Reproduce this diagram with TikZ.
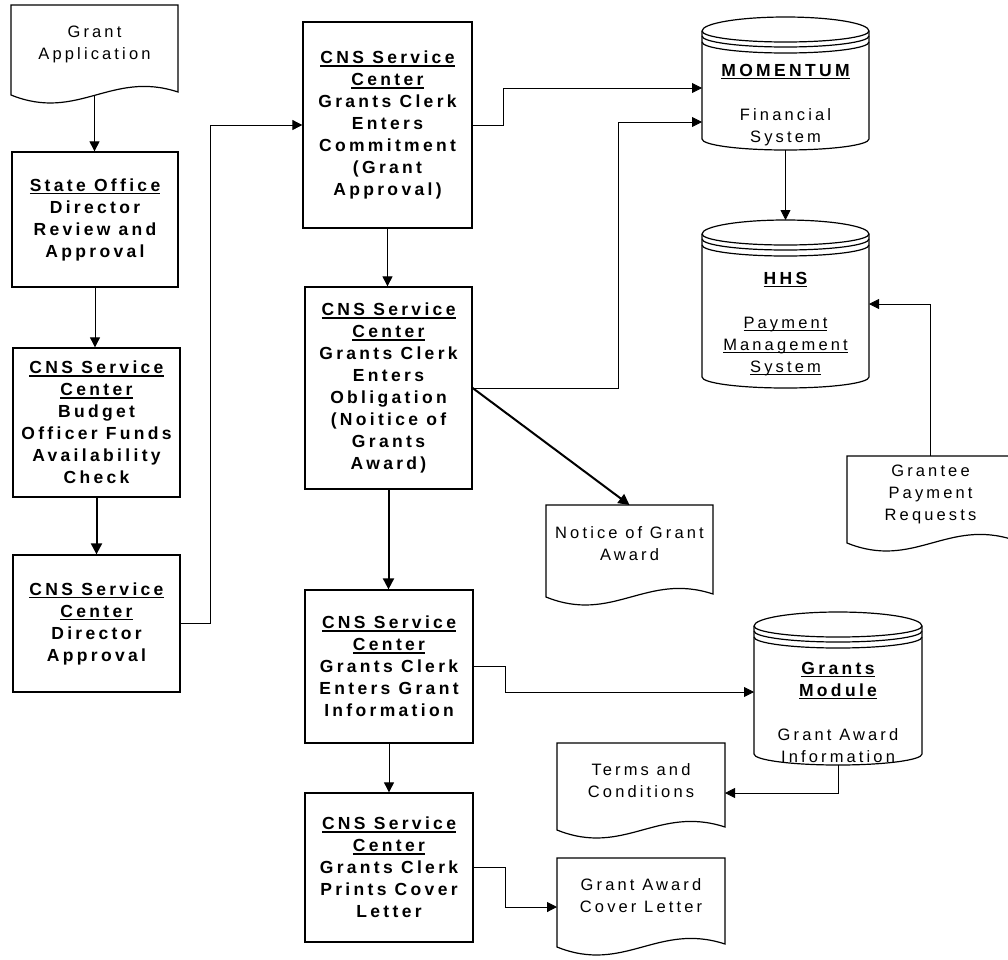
\documentclass[tikz,border=0pt]{standalone}
\usepackage{fontspec}
\setmainfont{Liberation Sans}
\newfontfamily\spreg[LetterSpace=19]{Liberation Sans}
\usetikzlibrary{arrows.meta,calc}
\newcommand\ulx[1]{\setbox0=\hbox{#1}\rlap{\rule[-3pt]{\wd0}{1.5pt}}\box0}
\newcommand\bt[1]{{\bfseries\fontsize{17.5}{22}\selectfont #1}}
\newcommand\docshape[1]{%
  \draw[shapeline,fill=white] (#1.south west) -- (#1.north west) -- (#1.north east) -- ($(#1.south east)+(0,-3)$)
    .. controls ($(#1.south west)!0.6!(#1.south east)+(0,-25)$) and ($(#1.south west)!0.4!(#1.south east)+(0,27)$) .. (#1.south west) -- cycle;}
\newcommand\cylshape[2]{%
  \draw[shapeline,fill=white] ($(#1.north west)+(0,14)$) arc[start angle=180,end angle=0,x radius=#2pt,y radius=14pt]
    -- ($(#1.south east)+(0,-11)$) arc[start angle=0,end angle=-180,x radius=#2pt,y radius=11pt] -- cycle;
  \draw[shapeline] ($(#1.north west)+(0,14)$) arc[start angle=180,end angle=360,x radius=#2pt,y radius=11pt];
  \draw[shapeline] ($(#1.north west)+(0,19)$) arc[start angle=180,end angle=360,x radius=#2pt,y radius=11pt];
  \draw[shapeline] ($(#1.north west)+(0,25)$) arc[start angle=180,end angle=360,x radius=#2pt,y radius=11pt];}
\tikzset{
  box/.style={draw, line width=1.3pt, fill=white, inner sep=0pt, align=center,
    font=\spreg\bfseries\fontsize{17.5}{22}\selectfont},
  frame/.style={draw=none, inner sep=0pt, outer sep=0pt},
  txt/.style={inner sep=0pt, align=center, font=\spreg\fontsize{16.5}{22}\selectfont},
  shapeline/.style={line width=1.2pt},
  conn/.style={line width=1pt, -{Triangle[length=10pt,width=10pt]}},
  thinconn/.style={line width=0.8pt, -{Triangle[length=10pt,width=10pt]}},
  thickconn/.style={line width=2pt, -{Triangle[length=11pt,width=11pt]}}
}
\begin{document}
\begin{tikzpicture}[x=1pt,y=-1pt]
\useasboundingbox[fill=white] (0,0) rectangle (1008,959);

% documents (frames)
\node[frame, minimum width=167pt, minimum height=90pt] (ga) at (94.5,50) {};
\node[frame, minimum width=167pt, minimum height=92pt] (ng) at (629.5,551) {};
\node[frame, minimum width=168pt, minimum height=87pt] (tc) at (641,786.5) {};
\node[frame, minimum width=168pt, minimum height=89pt] (cl) at (641,902.5) {};
\node[frame, minimum width=167pt, minimum height=87pt] (gp) at (930.5,499.5) {};
\docshape{ga}\docshape{ng}\docshape{tc}\docshape{cl}\docshape{gp}
\node[txt] (ga-t) at (94.5,44) {Grant\\Application};
\node[txt] (ng-t) at (629.5,544) {Notice of Grant\\Award};
\node[txt] (tc-t) at (641,781) {Terms and\\Conditions};
\node[txt] (cl-t) at (641,896) {Grant Award\\Cover Letter};
\node[txt] (gp-t) at (930.5,494) {Grantee\\Payment\\Requests};

% cylinders (frames)
\node[frame, minimum width=167pt, minimum height=133pt] (mom) at (785.5,83.5) {};
\node[frame, minimum width=167pt, minimum height=168pt] (hhs) at (785.5,304) {};
\node[frame, minimum width=168pt, minimum height=153pt] (gm) at (838,688.5) {};
\cylshape{mom}{83.5}\cylshape{hhs}{83.5}\cylshape{gm}{84}
\node[txt] (mom-t) at (785.5,105) {\bt{\ulx{MOMENTUM}}\\[22pt]Financial\\System};
\node[txt] (hhs-t) at (785.5,324) {\bt{\ulx{HHS}}\\[22pt]\ulx{Payment}\\\ulx{Management}\\\ulx{System}};
\node[txt] (gm-t) at (838,712) {\bt{\ulx{Grants}}\\\bt{\ulx{Module}}\\[22pt]Grant Award\\Information};

% process boxes
\node[box, minimum width=166pt, minimum height=135pt] (so) at (95,219.5)
  {\ulx{State Office}\\Director\\Review and\\Approval};
\node[box, minimum width=167pt, minimum height=149pt] (bud) at (96.5,422.5)
  {\ulx{CNS Service}\\\ulx{Center}\\Budget\\Officer Funds\\Availability\\Check};
\node[box, minimum width=167pt, minimum height=137pt] (dir) at (96.5,623.5)
  {\ulx{CNS Service}\\\ulx{Center}\\Director\\Approval};
\node[box, minimum width=169pt, minimum height=206pt] (c1) at (387.5,125)
  {\ulx{CNS Service}\\\ulx{Center}\\Grants Clerk\\Enters\\Commitment\\(Grant\\Approval)};
\node[box, minimum width=167pt, minimum height=202pt] (c2) at (388.5,388)
  {\ulx{CNS Service}\\\ulx{Center}\\Grants Clerk\\Enters\\Obligation\\(Noitice of\\Grants\\Award)};
\node[box, minimum width=168pt, minimum height=153pt] (c3) at (389,666.5)
  {\ulx{CNS Service}\\\ulx{Center}\\Grants Clerk\\Enters Grant\\Information};
\node[box, minimum width=168pt, minimum height=149pt] (c4) at (389,867.5)
  {\ulx{CNS Service}\\\ulx{Center}\\Grants Clerk\\Prints Cover\\Letter};

% connectors
\draw[conn] (ga.south) -- (ga.south |- so.north);
\draw[thinconn] (so.south) -- (so.south |- bud.north);
\draw[thickconn] (bud.south) -- (dir.north);
\draw[thinconn] (dir.east) -- ++(30,0) |- (c1.west);
\draw[conn] (c1.south) -- (c1.south |- c2.north);
\draw[thinconn] (c1.east) -- ++(31,0) |- ([yshift=-4.5pt]mom.west);
\draw[thinconn] (c2.east) -- ++(146,0) |- ([yshift=-38.5pt]mom.west);
\draw[thickconn] (c2.east) -- (ng.north);
\draw[thickconn] (c2.south) -- (c2.south |- c3.north);
\draw[thinconn] (mom.south) -- (hhs.north);
\draw[thinconn] (gp.north) |- (hhs.east);
\draw[thinconn] (c3.east) -- ++(32,0) |- ([yshift=-3.5pt]gm.west);
\draw[thinconn] (gm.south) |- ([yshift=-6.5pt]tc.east);
\draw[thinconn] (c3.south) -- (c3.south |- c4.north);
\draw[conn] (c4.east) -- ++(32,0) |- ([yshift=-4.5pt]cl.west);
\end{tikzpicture}
\end{document}
